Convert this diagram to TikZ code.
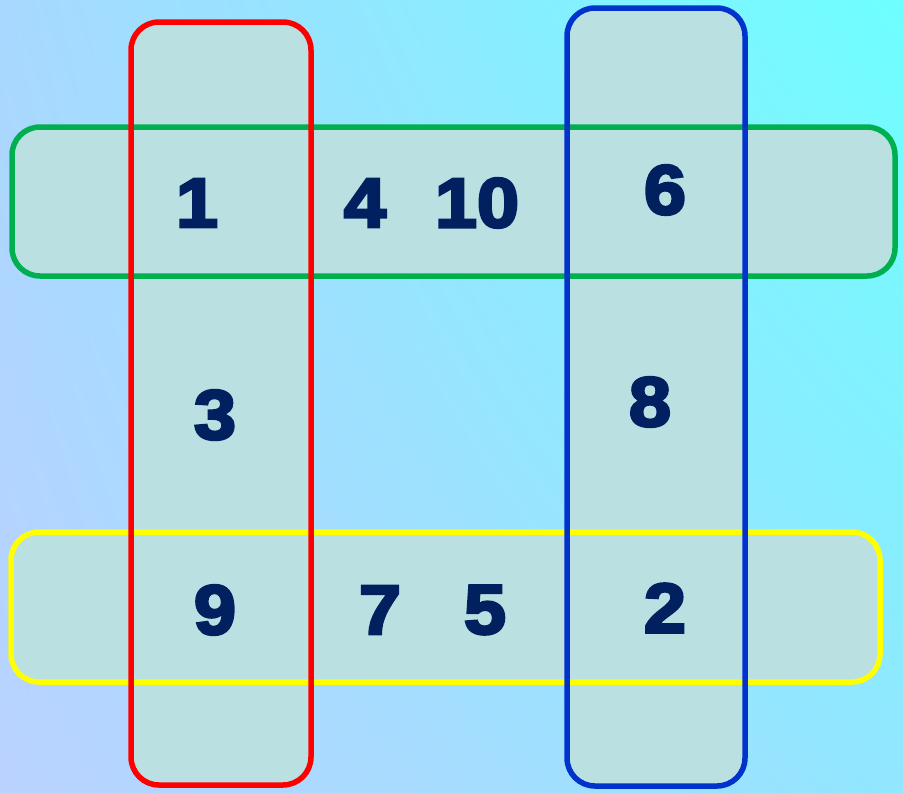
\documentclass[tikz,border=0pt]{standalone}
\usepackage{fontspec}
\usetikzlibrary{shadings}
\newfontfamily\numfont[FakeBold=4,FakeStretch=1.08]{Liberation Sans Bold}
\definecolor{bgUL}{RGB}{168,216,255}
\definecolor{bgUR}{RGB}{110,255,255}
\definecolor{bgLL}{RGB}{186,210,255}
\definecolor{bgLR}{RGB}{146,230,255}
\definecolor{setFill}{RGB}{187,224,226}
\definecolor{setRed}{RGB}{255,0,0}
\definecolor{setGreen}{RGB}{0,176,80}
\definecolor{setBlue}{RGB}{0,51,204}
\definecolor{setYellow}{RGB}{255,255,0}
\definecolor{numInk}{RGB}{0,32,96}

\begin{document}
\begin{tikzpicture}[x=1pt,y=-1pt,inner sep=0pt,outer sep=0pt,
  setfill/.style={fill=setFill,rounded corners=28pt},
  setedge/.style={line width=5.5pt,rounded corners=28pt},
  digit/.style={text=numInk,font=\numfont\fontsize{70}{70}\selectfont}]
\useasboundingbox (0,0) rectangle (903,793);
\shade[upper left=bgUL,upper right=bgUR,lower left=bgLL,lower right=bgLR] (0,0) rectangle (903,793);
% fills
\fill[setfill] (131,22) rectangle (311,785);
\fill[setfill] (567,8) rectangle (745,786);
\fill[setfill] (12,127) rectangle (895,276);
\fill[setfill] (11,532) rectangle (880,682);
% borders: rows first, columns on top
\draw[setedge,draw=setGreen] (12,127) rectangle (895,276);
\draw[setedge,draw=setYellow] (11,532) rectangle (880,682);
\draw[setedge,draw=setRed] (131,22) rectangle (311,785);
\draw[setedge,draw=setBlue] (567,8) rectangle (745,786);
% numbers
\node[digit] (n1) at (197,203) {1};
\node[digit] (n4) at (365,203) {4};
\node[digit] (n10) at (477,203) {10};
\node[digit] (n6) at (665,190) {6};
\node[digit] (n3) at (215,415) {3};
\node[digit] (n8) at (650,402) {8};
\node[digit] (n9) at (215,610) {9};
\node[digit] (n7) at (380,610) {7};
\node[digit] (n5) at (485,610) {5};
\node[digit] (n2) at (665,608) {2};
\end{tikzpicture}
\end{document}
